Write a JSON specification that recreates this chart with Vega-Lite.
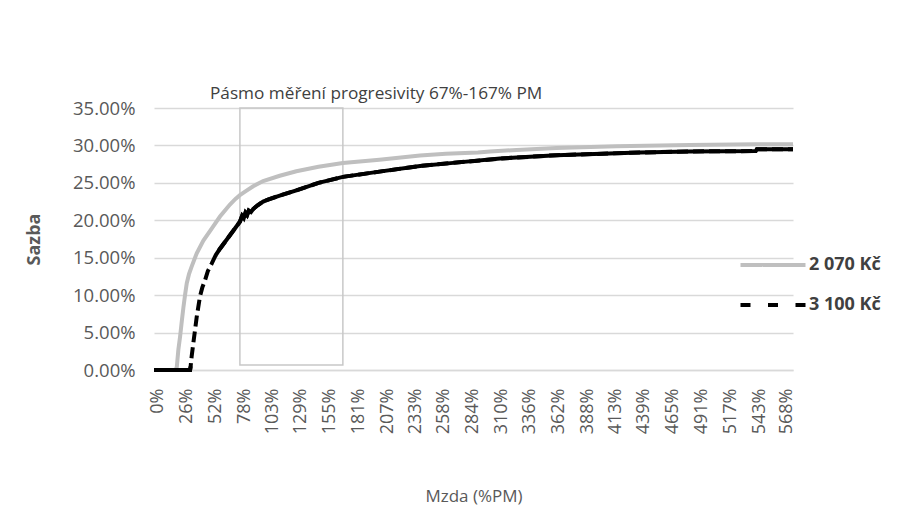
{
  "$schema": "https://vega.github.io/schema/vega-lite/v6.json",
  "width": 639,
  "height": 262,
  "autosize": {"type": "none"},
  "padding": {"left": 154, "top": 108, "right": 124, "bottom": 144},
  "background": "white",
  "config": {
    "view": {"stroke": null},
    "font": "Open Sans",
    "axis": {"labelFont": "Open Sans", "titleFont": "Open Sans", "labelColor": "#595959", "titleColor": "#595959", "labelOverlap": false}
  },
  "datasets": {
    "curves": [
      {"s": "2 070 Kč", "x": -3.6, "y": 0},
      {"s": "2 070 Kč", "x": 16, "y": 0},
      {"s": "2 070 Kč", "x": 17, "y": 0.004},
      {"s": "2 070 Kč", "x": 18.4, "y": 0.027},
      {"s": "2 070 Kč", "x": 20, "y": 0.045},
      {"s": "2 070 Kč", "x": 21.5, "y": 0.065},
      {"s": "2 070 Kč", "x": 23, "y": 0.084},
      {"s": "2 070 Kč", "x": 24.5, "y": 0.101},
      {"s": "2 070 Kč", "x": 26, "y": 0.116},
      {"s": "2 070 Kč", "x": 28, "y": 0.128},
      {"s": "2 070 Kč", "x": 30.4, "y": 0.138},
      {"s": "2 070 Kč", "x": 35, "y": 0.156},
      {"s": "2 070 Kč", "x": 41, "y": 0.173},
      {"s": "2 070 Kč", "x": 48.5, "y": 0.189},
      {"s": "2 070 Kč", "x": 56, "y": 0.205},
      {"s": "2 070 Kč", "x": 65, "y": 0.221},
      {"s": "2 070 Kč", "x": 70, "y": 0.2285},
      {"s": "2 070 Kč", "x": 74, "y": 0.2335},
      {"s": "2 070 Kč", "x": 80, "y": 0.2395},
      {"s": "2 070 Kč", "x": 86, "y": 0.2455},
      {"s": "2 070 Kč", "x": 95, "y": 0.2525},
      {"s": "2 070 Kč", "x": 110, "y": 0.2595},
      {"s": "2 070 Kč", "x": 125, "y": 0.2655},
      {"s": "2 070 Kč", "x": 145, "y": 0.2715},
      {"s": "2 070 Kč", "x": 167, "y": 0.2765},
      {"s": "2 070 Kč", "x": 200, "y": 0.281},
      {"s": "2 070 Kč", "x": 236.7, "y": 0.2865},
      {"s": "2 070 Kč", "x": 260, "y": 0.289},
      {"s": "2 070 Kč", "x": 289, "y": 0.2905},
      {"s": "2 070 Kč", "x": 300, "y": 0.292},
      {"s": "2 070 Kč", "x": 324, "y": 0.294},
      {"s": "2 070 Kč", "x": 360, "y": 0.2965},
      {"s": "2 070 Kč", "x": 414, "y": 0.299},
      {"s": "2 070 Kč", "x": 480, "y": 0.3005},
      {"s": "2 070 Kč", "x": 540, "y": 0.3015},
      {"s": "2 070 Kč", "x": 573.6, "y": 0.3016},
      {"s": "3 100 Kč", "x": -3.6, "y": 0},
      {"s": "3 100 Kč", "x": 29, "y": 0},
      {"s": "3 100 Kč", "x": 29.5, "y": 0.005},
      {"s": "3 100 Kč", "x": 30.4, "y": 0.018},
      {"s": "3 100 Kč", "x": 31.9, "y": 0.0356},
      {"s": "3 100 Kč", "x": 33.5, "y": 0.054},
      {"s": "3 100 Kč", "x": 35, "y": 0.071},
      {"s": "3 100 Kč", "x": 37.9, "y": 0.098},
      {"s": "3 100 Kč", "x": 40, "y": 0.110},
      {"s": "3 100 Kč", "x": 42.5, "y": 0.120},
      {"s": "3 100 Kč", "x": 45, "y": 0.132},
      {"s": "3 100 Kč", "x": 48.5, "y": 0.142},
      {"s": "3 100 Kč", "x": 52, "y": 0.153},
      {"s": "3 100 Kč", "x": 56, "y": 0.162},
      {"s": "3 100 Kč", "x": 60, "y": 0.170},
      {"s": "3 100 Kč", "x": 65, "y": 0.180},
      {"s": "3 100 Kč", "x": 70, "y": 0.190},
      {"s": "3 100 Kč", "x": 74, "y": 0.198},
      {"s": "3 100 Kč", "x": 76, "y": 0.206},
      {"s": "3 100 Kč", "x": 77.5, "y": 0.203},
      {"s": "3 100 Kč", "x": 79, "y": 0.210},
      {"s": "3 100 Kč", "x": 80.5, "y": 0.207},
      {"s": "3 100 Kč", "x": 82, "y": 0.213},
      {"s": "3 100 Kč", "x": 84, "y": 0.211},
      {"s": "3 100 Kč", "x": 86, "y": 0.215},
      {"s": "3 100 Kč", "x": 90, "y": 0.220},
      {"s": "3 100 Kč", "x": 95, "y": 0.225},
      {"s": "3 100 Kč", "x": 100, "y": 0.228},
      {"s": "3 100 Kč", "x": 110, "y": 0.233},
      {"s": "3 100 Kč", "x": 125, "y": 0.240},
      {"s": "3 100 Kč", "x": 145, "y": 0.250},
      {"s": "3 100 Kč", "x": 167, "y": 0.258},
      {"s": "3 100 Kč", "x": 200, "y": 0.265},
      {"s": "3 100 Kč", "x": 236.7, "y": 0.2726},
      {"s": "3 100 Kč", "x": 266.7, "y": 0.2767},
      {"s": "3 100 Kč", "x": 309, "y": 0.2824},
      {"s": "3 100 Kč", "x": 360, "y": 0.287},
      {"s": "3 100 Kč", "x": 435, "y": 0.2905},
      {"s": "3 100 Kč", "x": 480, "y": 0.292},
      {"s": "3 100 Kč", "x": 540, "y": 0.2925},
      {"s": "3 100 Kč", "x": 541, "y": 0.295},
      {"s": "3 100 Kč", "x": 573.6, "y": 0.295}
    ],
    "band": [{"x1": 74, "x2": 167, "y1": 0.0066, "y2": 0.35}],
    "note": [{"label": "Pásmo měření progresivity 67%-167% PM", "x": 47, "y": 0.362}]
  },
  "layer": [
    {
      "data": {"name": "band"},
      "mark": {"type": "rect", "fill": "transparent", "stroke": "#c8c8c8", "strokeWidth": 1.5},
      "encoding": {
        "x": {"field": "x1", "type": "quantitative", "scale": {"domain": [-3.6, 573.6], "nice": false, "zero": false},
          "axis": {"values": [0,26,52,78,103,129,155,181,207,233,258,284,310,336,362,388,413,439,465,491,517,543,568], "tickCount": 100,
            "labelExpr": "datum.value + '%'", "labelAngle": -90, "labelAlign": "right", "labelBaseline": "middle",
            "labelFontSize": 18, "labelPadding": 18, "ticks": false, "grid": false, "domainColor": "#d9d9d9", "domainWidth": 1.3,
            "title": "Mzda (%PM)", "titleFontSize": 17, "titleFontWeight": "normal", "titlePadding": 55, "labelOverlap": false}},
        "x2": {"field": "x2"},
        "y": {"field": "y1", "type": "quantitative", "scale": {"domain": [0, 0.35], "nice": false},
          "axis": {"values": [0,0.05,0.1,0.15,0.2,0.25,0.3,0.35], "tickCount": 50, "format": ".2%", "labelFontSize": 18.5, "labelPadding": 19,
            "ticks": false, "domain": false, "gridColor": "#d9d9d9", "gridWidth": 1.3, "labelOverlap": false,
            "title": "Sazba", "titleFontSize": 18, "titleFontWeight": "bold", "titlePadding": 29}},
        "y2": {"field": "y2"}
      }
    },
    {
      "data": {"name": "curves"},
      "transform": [{"filter": "datum.s === '2 070 Kč'"}],
      "mark": {"type": "line", "strokeWidth": 4},
      "encoding": {
        "x": {"field": "x", "type": "quantitative"},
        "y": {"field": "y", "type": "quantitative"},
        "color": {"field": "s", "type": "nominal", "scale": {"domain": ["2 070 Kč", "3 100 Kč"], "range": ["#bfbfbf", "#000000"]},
          "legend": {"title": null, "orient": "none", "legendX": 604, "legendY": 142,
            "symbolType": "M-2.5,0H2.5", "symbolSize": 676, "symbolStrokeWidth": 4, "labelOffset": 21,
            "labelFont": "Open Sans", "labelFontSize": 18, "labelFontWeight": "bold", "labelColor": "#404040", "rowPadding": 16,
            "encode": {"symbols": {"update": {"strokeDash": {"signal": "datum.value === '3 100 Kč' ? [10, 17.5] : [1, 0]"}}}}}}
      }
    },
    {
      "data": {"name": "curves"},
      "transform": [{"filter": "datum.s === '3 100 Kč'"}],
      "mark": {"type": "line", "strokeWidth": 4, "color": "#000000", "strokeDash": [11, 5]},
      "encoding": {"x": {"field": "x", "type": "quantitative"}, "y": {"field": "y", "type": "quantitative"}}
    },
    {
      "data": {"name": "curves"},
      "transform": [{"filter": "datum.s === '3 100 Kč' && datum.x <= 29.5"}],
      "mark": {"type": "line", "strokeWidth": 4, "color": "#000000"},
      "encoding": {"x": {"field": "x", "type": "quantitative"}, "y": {"field": "y", "type": "quantitative"}}
    },
    {
      "data": {"name": "curves"},
      "transform": [{"filter": "datum.s === '3 100 Kč' && datum.x >= 52"}],
      "mark": {"type": "line", "strokeWidth": 4, "color": "#000000"},
      "encoding": {"x": {"field": "x", "type": "quantitative"}, "y": {"field": "y", "type": "quantitative"}}
    },
    {
      "data": {"name": "note"},
      "mark": {"type": "text", "align": "left", "baseline": "alphabetic", "font": "Open Sans", "fontSize": 17.2, "color": "#404040"},
      "encoding": {"x": {"field": "x", "type": "quantitative"}, "y": {"field": "y", "type": "quantitative"}, "text": {"field": "label"}}
    }
  ]
}
